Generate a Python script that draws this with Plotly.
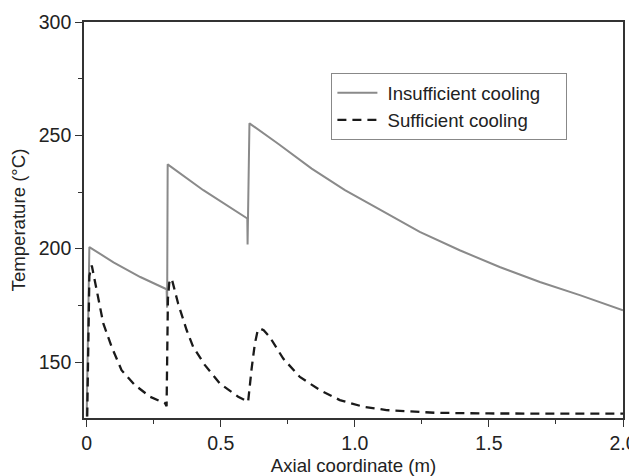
import plotly.graph_objects as go

# Insufficient cooling (grey solid)
x_insuff = [0, 0.01, 0.1, 0.2, 0.298, 0.3, 0.302, 0.435, 0.599, 0.6, 0.607,
            0.714, 0.839, 0.963, 1.087, 1.242, 1.391, 1.54, 1.69, 1.839, 2.0]
y_insuff = [126, 200.7, 194, 187.5, 182.1, 174, 237.2, 225.8, 213.3, 201.9, 255.3,
            246.3, 235.3, 225.8, 217.7, 207.4, 199.3, 191.9, 185.3, 179.5, 172.8]

# Sufficient cooling (black dashed)
x_suff = [0.002, 0.006, 0.010, 0.019, 0.043, 0.062, 0.093, 0.13, 0.18, 0.236, 0.292,
          0.298, 0.300, 0.303, 0.308, 0.317, 0.341, 0.373, 0.397, 0.441, 0.497, 0.565,
          0.602, 0.609, 0.615, 0.627, 0.637, 0.646, 0.66, 0.683, 0.733, 0.795, 0.87,
          0.944, 1.031, 1.118, 1.217, 1.30, 1.5, 1.75, 2.0]
y_suff = [126, 170, 188, 192.6, 178.7, 167, 156.7, 146.4, 139.8, 134.7, 131.8,
          130.5, 150, 178, 185, 186.8, 175.8, 164, 156.7, 148.6, 140.5, 134.7,
          132.4, 140.5, 147, 158, 163.5, 164.8, 164, 161, 151.5, 143.4, 137.6,
          133.2, 130.3, 128.8, 128.1, 127.6, 127.3, 127.2, 127.2]

pad = '\u00a0'
fig = go.Figure()
fig.add_trace(go.Scatter(x=x_insuff, y=y_insuff, mode='lines',
                         name=pad + 'Insufficient cooling' + pad * 4,
                         line=dict(color='#8a8a8a', width=2)))
fig.add_trace(go.Scatter(x=x_suff, y=y_suff, mode='lines',
                         name=pad + 'Sufficient cooling',
                         line=dict(color='#1a1a1a', width=2.3, dash='9px,6px')))

axe = dict(showgrid=False, zeroline=False, showline=True, linecolor='#333333', linewidth=1.6,
           mirror=True, ticks='outside', ticklen=7, tickwidth=1.3, tickcolor='#333333',
           tickfont=dict(size=19.5, color='#222222'), automargin=False)

fig.update_xaxes(**axe, range=[-0.01, 2.0], tickvals=[0, 0.5, 1.0, 1.5, 2.0],
                 ticktext=['0', '0.5', '1.0', '1.5', '2.0'],
                 minor=dict(tickvals=[0.25, 0.75, 1.25, 1.75], ticks='outside', ticklen=4,
                            tickcolor='#333333', tickwidth=1.3),
                 title=dict(text='Axial coordinate (m)', font=dict(size=18.6, color='#222222'),
                            standoff=8))
fig.update_yaxes(**axe, range=[125.3, 300], tickvals=[150, 200, 250, 300],
                 minor=dict(tickvals=[175, 225, 275], ticks='outside', ticklen=4,
                            tickcolor='#333333', tickwidth=1.3),
                 title=dict(text='Temperature (°C)', font=dict(size=18.6, color='#222222'),
                            standoff=12))

# the page body adds an 8px margin, so the figure is sized to fit after that offset
fig.update_layout(
    width=629, height=468,
    margin=dict(l=76, r=14, t=14, b=57.7),
    plot_bgcolor='white', paper_bgcolor='white',
    font=dict(family='Liberation Sans, Arial, sans-serif', size=18.6, color='#222222'),
    legend=dict(x=0.459, y=0.871, xanchor='left', yanchor='top',
                bordercolor='#888888', borderwidth=1, bgcolor='white',
                font=dict(size=18.6), itemwidth=40, tracegroupgap=0),
    showlegend=True,
)

fig.write_html("out.html")
